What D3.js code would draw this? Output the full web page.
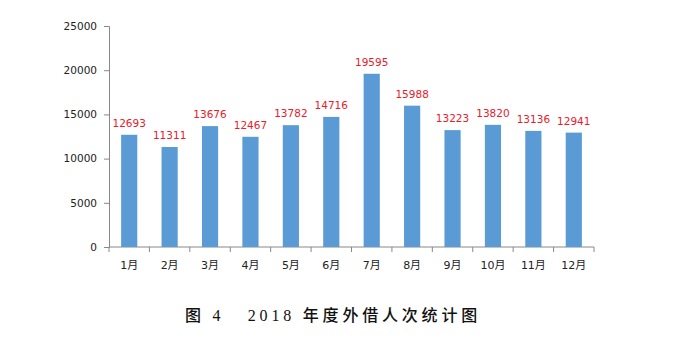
<!DOCTYPE html>
<html>
<head>
<meta charset="utf-8">
<script src="https://cdn.jsdelivr.net/npm/d3@7/dist/d3.min.js"></script>
<style>
  html, body { margin: 0; padding: 0; background: #fff; }
  svg { display: block; }
</style>
</head>
<body>
<svg id="chart" width="684" height="338"></svg>
<script>
// Monthly loan counts for 2018
const months = ["1月","2月","3月","4月","5月","6月","7月","8月","9月","10月","11月","12月"];
const loans = [12693, 11311, 13676, 12467, 13782, 14716, 19595, 15988, 13223, 13820, 13136, 12941];
const yTicks = [0, 5000, 10000, 15000, 20000, 25000];
const title = "图 4   2018 年度外借人次统计图";

const svg = d3.select("#chart");
const plot = { left: 109, right: 594, top: 26, bottom: 247 };

const x = d3.scaleBand().domain(months).range([plot.left, plot.right]).paddingInner(0.6).paddingOuter(0.3);
const y = d3.scaleLinear().domain([0, 25000]).range([plot.bottom, plot.top]);

const axisColor = "#888888";
const numFont = "'DejaVu Sans', Verdana, sans-serif";

// Y axis
const yAxis = svg.append("g")
  .attr("transform", `translate(${plot.left},0)`)
  .call(d3.axisLeft(y).tickValues(yTicks).tickSize(5).tickPadding(7).tickFormat(d3.format("d")));
yAxis.select(".domain").attr("stroke", axisColor);
yAxis.selectAll(".tick line").attr("stroke", axisColor);
yAxis.selectAll("text").attr("font-family", numFont).attr("font-size", "10.5px").attr("fill", "#222");

// X axis: ticks sit on the band boundaries
const xAxis = svg.append("g")
  .attr("transform", `translate(0,${plot.bottom})`);
xAxis.append("line")
  .attr("x1", plot.left).attr("x2", plot.right)
  .attr("stroke", axisColor);
const bounds = d3.range(months.length + 1).map(i => plot.left + i * (plot.right - plot.left) / months.length);
xAxis.selectAll("line.tk").data(bounds).join("line")
  .attr("class", "tk")
  .attr("x1", d => d).attr("x2", d => d)
  .attr("y1", 0).attr("y2", 5)
  .attr("stroke", axisColor);
xAxis.selectAll("text").data(months).join("text")
  .attr("x", d => x(d) + x.bandwidth() / 2)
  .attr("y", 22)
  .attr("text-anchor", "middle")
  .attr("font-family", "'DejaVu Sans', 'Noto Sans CJK SC', sans-serif")
  .attr("font-size", "11px")
  .attr("fill", "#222")
  .text(d => d);

// Bars
svg.append("g").selectAll("rect").data(months).join("rect")
  .attr("x", d => x(d))
  .attr("width", x.bandwidth())
  .attr("y", (d, i) => y(loans[i]))
  .attr("height", (d, i) => plot.bottom - y(loans[i]))
  .attr("fill", "#5b9bd5");

// Value labels
svg.append("g").selectAll("text").data(months).join("text")
  .attr("x", d => x(d) + x.bandwidth() / 2)
  .attr("y", (d, i) => y(loans[i]) - 8)
  .attr("text-anchor", "middle")
  .attr("font-family", numFont)
  .attr("font-size", "10.5px")
  .attr("fill", "#e8202a")
  .text((d, i) => loans[i]);

// Caption
svg.append("text")
  .attr("x", 333)
  .attr("y", 321)
  .attr("text-anchor", "middle")
  .attr("xml:space", "preserve")
  .style("white-space", "pre")
  .attr("font-family", "'Liberation Serif', 'Noto Sans CJK SC', serif")
  .attr("font-size", "16px")
  .attr("font-weight", "500")
  .attr("letter-spacing", "3.8px")
  .attr("fill", "#111")
  .text(title);
</script>
</body>
</html>
